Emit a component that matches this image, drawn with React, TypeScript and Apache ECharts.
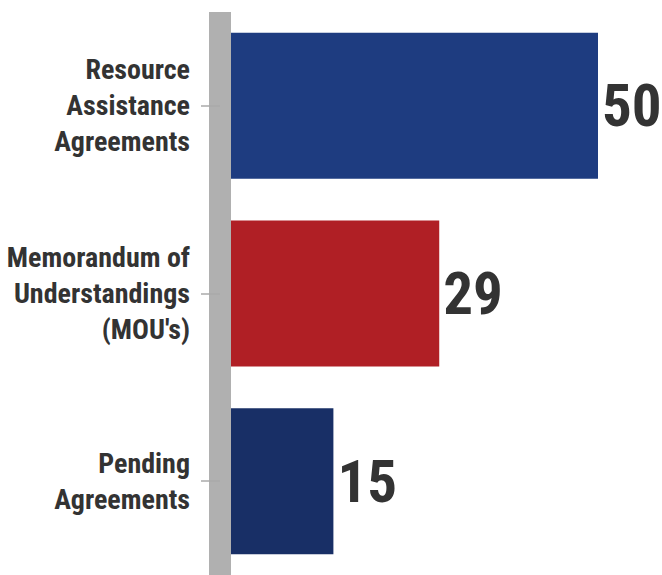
import React, { useEffect, useRef } from "react";
import * as echarts from "echarts";

const categories = [
  "Resource\nAssistance\nAgreements",
  "Memorandum of\nUnderstandings\n(MOU's)",
  "Pending\nAgreements",
];
const values = [50, 29, 15];
const barColors = ["#1e3c80", "#b01f25", "#182f66"];

export default function App() {
  const ref = useRef<HTMLDivElement>(null);
  useEffect(() => {
    document.body.style.margin = "0";
    const chart = echarts.init(ref.current!, undefined, { renderer: "svg" });
    const font = "'Roboto Condensed', 'Liberation Sans Narrow', Roboto, sans-serif";
    chart.setOption({
      animation: false,
      grid: { left: 220, top: 12, width: 378, height: 567, containLabel: false },
      xAxis: { type: "value", min: 0, max: 50, show: false },
      yAxis: {
        type: "category",
        data: categories,
        inverse: true,
        z: 5,
        axisLine: { show: true, lineStyle: { color: "#b0b0b0", width: 22, cap: "butt" } },
        axisTick: { show: true, alignWithLabel: true, length: 19, lineStyle: { color: "#aaaaaa", width: 1.5 } },
        axisLabel: {
          margin: 30,
          align: "right",
          fontFamily: font,
          fontWeight: "bold",
          fontSize: 28,
          lineHeight: 36,
          padding: [6, 0, 0, 0],
          color: "#333333",
        },
      },
      series: [
        {
          type: "bar",
          barWidth: 146,
          data: values.map((v, i) => ({ value: v, itemStyle: { color: barColors[i] } })),
          label: {
            show: true,
            position: "right",
            distance: 4,
            fontFamily: font,
            fontWeight: "bold",
            fontSize: 59,
            color: "#333333",
          },
        },
      ],
    });
    return () => chart.dispose();
  }, []);
  return <div ref={ref} style={{ width: 662, height: 575 }} />;
}
